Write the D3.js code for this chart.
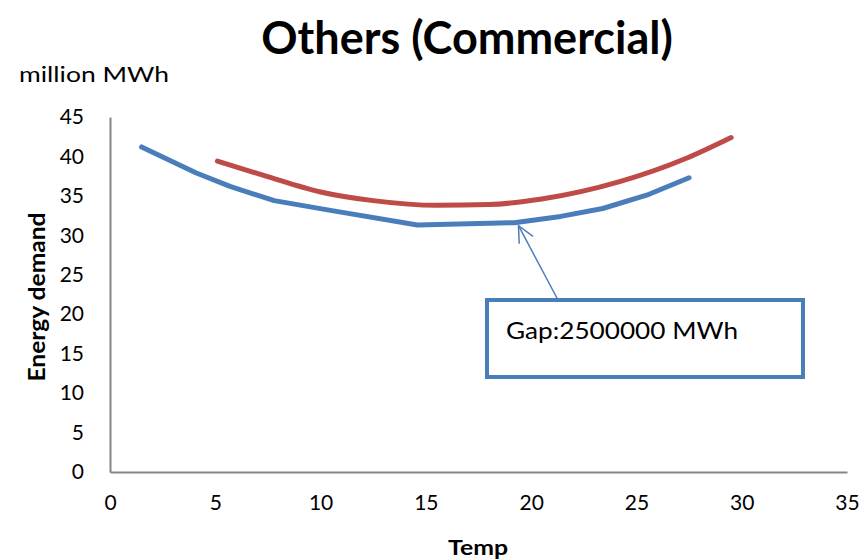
<!DOCTYPE html>
<html>
<head>
<meta charset="utf-8">
<script src="https://cdn.jsdelivr.net/npm/d3@7"></script>
<style>
  html, body { margin: 0; padding: 0; background: #fff; }
  svg { display: block; font-family: Lato, "Open Sans", sans-serif; }
</style>
</head>
<body>
<svg id="chart" width="864" height="560"></svg>
<script>
// Temperature (°C) vs. energy demand (million MWh)
const blueTemp   = [1.5, 4.1, 5.7, 7.8, 10.4, 14.6, 19.2, 21.4, 23.4, 25.6, 27.5];
const blueDemand = [41.2, 37.9, 36.2, 34.4, 33.2, 31.3, 31.6, 32.4, 33.4, 35.2, 37.3];
const redTemp    = [5.1, 7.3, 10.0, 12.5, 15.5, 18.0, 20.5, 24.2, 27.4, 29.5];
const redDemand  = [39.4, 37.6, 35.5, 34.4, 33.8, 33.9, 34.6, 36.8, 39.8, 42.4];
const xTicks = [0, 5, 10, 15, 20, 25, 30, 35];
const yTicks = [0, 5, 10, 15, 20, 25, 30, 35, 40, 45];
const gapLabel = "Gap:2500000 MWh";
const gapPoint = [19.4, 31.6];   // point the callout arrow refers to

const svg = d3.select("#chart");
const x = d3.scaleLinear().domain([0, 35]).range([110, 847]);
const y = d3.scaleLinear().domain([0, 45]).range([472, 117]);

// Title and unit label
svg.append("text").attr("x", 467).attr("y", 54).attr("text-anchor", "middle")
  .attr("font-size", 45).attr("font-weight", "bold").text("Others (Commercial)");
svg.append("text").attr("x", 19).attr("y", 82).attr("font-size", 21)
  .attr("textLength", 150).attr("lengthAdjust", "spacingAndGlyphs").text("million MWh");

// Axes (lines only, no tick marks)
const xAxis = svg.append("g").attr("transform", `translate(0,${y(0)})`)
  .call(d3.axisBottom(x).tickValues(xTicks).tickSize(0).tickPadding(23));
const yAxis = svg.append("g").attr("transform", `translate(${x(0)},0)`)
  .call(d3.axisLeft(y).tickValues(yTicks).tickSize(0).tickPadding(26));
[xAxis, yAxis].forEach(g => {
  g.select(".domain").attr("stroke", "#868686").attr("stroke-width", 2);
  g.selectAll("text").attr("font-size", 21).attr("fill", "#000")
    .attr("font-family", "Lato, 'Open Sans', sans-serif");
});

// Axis titles
svg.append("text").attr("x", 478).attr("y", 555).attr("text-anchor", "middle")
  .attr("font-size", 21).attr("font-weight", "bold")
  .attr("textLength", 60).attr("lengthAdjust", "spacingAndGlyphs").text("Temp");
svg.append("text").attr("transform", "translate(44.5,297) rotate(-90)").attr("text-anchor", "middle")
  .attr("font-size", 22).attr("font-weight", "bold")
  .attr("textLength", 169).attr("lengthAdjust", "spacingAndGlyphs").text("Energy demand");

// Series
const smooth = d3.line().x(d => x(d[0])).y(d => y(d[1])).curve(d3.curveMonotoneX);
const straight = d3.line().x(d => x(d[0])).y(d => y(d[1]));
const blue = d3.zip(blueTemp, blueDemand);
const red = d3.zip(redTemp, redDemand);
svg.append("path").datum(red).attr("d", smooth).attr("fill", "none")
  .attr("stroke", "#be4b48").attr("stroke-width", 5).attr("stroke-linecap", "round");
svg.append("path").datum(blue).attr("d", straight).attr("fill", "none")
  .attr("stroke", "#4a7ebb").attr("stroke-width", 5).attr("stroke-linecap", "round")
  .attr("stroke-linejoin", "round");

// Callout box with arrow
const bx = 487, by = 300, bw = 316, bh = 77;
const ax0 = 558, ay0 = by;
const ax1 = x(gapPoint[0]), ay1 = y(gapPoint[1]) + 3;
svg.append("line").attr("x1", ax0).attr("y1", ay0).attr("x2", ax1).attr("y2", ay1)
  .attr("stroke", "#4a7ebb").attr("stroke-width", 1.5);
const ang = Math.atan2(ay0 - ay1, ax0 - ax1);
const hl = 18, spread = 0.45;
svg.append("path")
  .attr("d", `M${ax1 + hl * Math.cos(ang - spread)},${ay1 + hl * Math.sin(ang - spread)} L${ax1},${ay1} L${ax1 + hl * Math.cos(ang + spread)},${ay1 + hl * Math.sin(ang + spread)}`)
  .attr("fill", "none").attr("stroke", "#4a7ebb").attr("stroke-width", 1.5);
svg.append("rect").attr("x", bx).attr("y", by).attr("width", bw).attr("height", bh)
  .attr("fill", "#fff").attr("stroke", "#4a7ebb").attr("stroke-width", 4);
svg.append("text").attr("x", 506).attr("y", 339).attr("font-size", 24)
  .attr("textLength", 232).attr("lengthAdjust", "spacingAndGlyphs").text(gapLabel);
</script>
</body>
</html>
